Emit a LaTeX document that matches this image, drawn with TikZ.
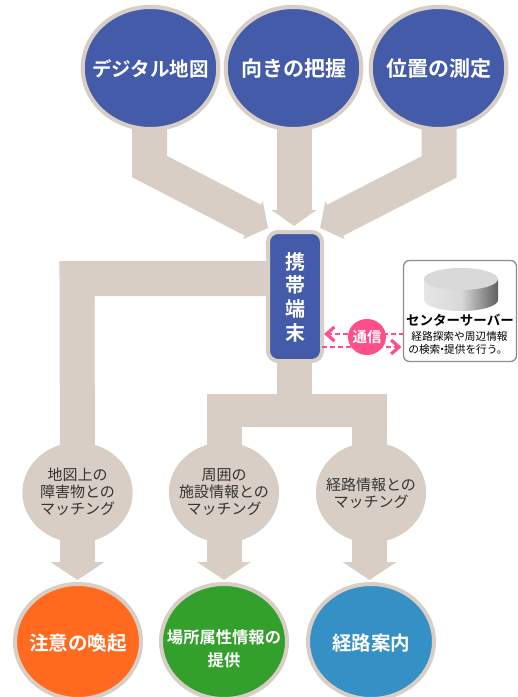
\documentclass[tikz,border=0pt]{standalone}
\usepackage{fontspec}
\setmainfont{Noto Sans CJK JP}
\newfontfamily\cjkheavy{Noto Sans CJK JP Bold}
\usetikzlibrary{shapes.geometric,arrows.meta,calc}
\definecolor{tan}{HTML}{D8CEC5}
\definecolor{navy}{HTML}{435BA8}
\definecolor{tOrange}{HTML}{FF6A1E}
\definecolor{tGreen}{HTML}{33A02C}
\definecolor{tBlue}{HTML}{3590C5}
\definecolor{tPink}{HTML}{FF4F8A}
\newcommand{\fsz}[1]{\fontsize{#1bp}{#1bp}\selectfont}
\tikzset{
  fat/.style={draw=tan,line width=35bp,line join=miter,line cap=butt},
  fatarrowA/.style={fat,-{Triangle[width=42bp,length=17bp]}},
  fatarrowB/.style={fat,-{Triangle[width=44bp,length=16bp]}},
  fatarrowC/.style={fat,-{Triangle[width=53bp,length=18bp]}},
  discbase/.style={ellipse,draw=tan,line width=4bp,inner sep=0pt,outer sep=0pt},
  topdisc/.style={discbase,fill=navy,minimum width=135.5bp,minimum height=122bp},
  enddisc/.style={discbase,minimum width=126bp,minimum height=115bp},
  greydisc/.style={ellipse,fill=tan,inner sep=0pt,outer sep=0pt,minimum width=110bp,minimum height=100bp},
  wlabel/.style={text=white,align=center,inner sep=0pt},
  glabel/.style={text=black!80,align=center,inner sep=0pt},
  commline/.style={draw=tPink,line width=2bp,dash pattern=on 5bp off 3bp},
  commtip/.style={-{Straight Barb[length=8bp,width=14bp,line width=3.2bp]}},
}
\begin{document}
\begin{tikzpicture}[x=1bp,y=-1bp]
\useasboundingbox (0,0) rectangle (518,697);
\path
  node[topdisc] (b1) at (150.5,68) {}
  node[topdisc] (b2) at (293.5,68) {}
  node[topdisc] (b3) at (438.5,68) {};
\path
  node[greydisc] (g1) at (77.5,492.5) {}
  node[greydisc] (g2) at (224,492.5) {}
  node[greydisc] (g3) at (371,492.5) {};
\path
  node[enddisc,fill=tOrange] (o1) at (78,641.5) {}
  node[enddisc,fill=tGreen] (o2) at (224,641.5) {}
  node[enddisc,fill=tBlue] (o3) at (371,641.5) {};
% connection points
\coordinate (k1) at (149.5,166.5);
\coordinate (t1) at (268,228);
\coordinate (k3) at (439,167);
\coordinate (t3) at (320,228);
\coordinate (lb) at (77,278.5);
\coordinate (bc) at (294,410.5);
\coordinate (bl) at (224,410.5);
\coordinate (br) at (369.5,410.5);
% fat connectors
\draw[fatarrowA] (149.5,125) -- (k1) -- (t1);
\draw[fatarrowB] (294,125) -- (294,226);
\draw[fatarrowA] (439,125) -- (k3) -- (t3);
\draw[fat] (280,278.5) -- (lb) -- (g1.center);
\draw[fat] (294,350) -- (bc);
\draw[fat,line width=32.5bp] (206.7,410.5) -- (386.7,410.5);
\draw[fat] (bl) -- (g2.center);
\draw[fat] (br) -- (369.5,500);
\draw[fatarrowC] (g1.center) -- ($(g1.center)+(0,87.5)$);
\draw[fatarrowC] (g2.center) -- ($(g2.center)+(0,87.5)$);
\draw[fatarrowC] (369.5,492.5) -- (369.5,580);
% redraw discs above the connectors
\path
  node[topdisc] at (b1) {}
  node[topdisc] at (b2) {}
  node[topdisc] at (b3) {}
  node[greydisc] at (g1) {}
  node[greydisc] at (g2) {}
  node[greydisc] at (g3) {};
% terminal
\node[rounded corners=10bp,draw=tan,fill=navy,line width=4bp,minimum width=54bp,minimum height=129bp,inner sep=0pt,outer sep=0pt] (term) at (295,296.5) {};
% server box
\node[rounded corners=6bp,draw=black!45,fill=white,line width=1.3bp,minimum width=113bp,minimum height=101bp,inner sep=0pt,outer sep=0pt] (server) at (460,311) {};
% cylinder
\shade[left color=gray!20,right color=gray!75!black,middle color=gray!30]
  (424,279) -- (424,300) arc[start angle=180,end angle=0,x radius=37bp,y radius=-11bp] -- (498,279) -- cycle;
\fill[gray!30] (461,279) ellipse[x radius=37bp,y radius=11bp];
% communication
\coordinate (cu) at (367,334);
\coordinate (cd) at (367,347);
\draw[commline,commtip] (server.west |- cu) -- ($(term.east |- cu)+(2,0)$);
\draw[commline,commtip] (term.east |- cd) -- ($(server.west |- cd)+(-2,0)$);
\node[ellipse,fill=tPink,minimum width=38bp,minimum height=36bp,inner sep=0pt] (comm) at (367,337) {};
% labels
\node[wlabel,font=\cjkheavy\fsz{19.5}] (l1) at (150.5,69) {デジタル地図};
\node[wlabel,font=\cjkheavy\fsz{21}] (l2) at (293.5,69) {向きの把握};
\node[wlabel,font=\cjkheavy\fsz{21}] (l3) at (438.5,69) {位置の測定};
\node[wlabel,font=\cjkheavy\fsz{20}] (l4) at (295,262) {携};
\node[wlabel,font=\cjkheavy\fsz{20}] (l5) at (295,285) {帯};
\node[wlabel,font=\cjkheavy\fsz{20}] (l6) at (295,308.5) {端};
\node[wlabel,font=\cjkheavy\fsz{20}] (l7) at (295,332.5) {末};
\node[wlabel,font=\cjkheavy\fsz{14.5}] (l8) at (367,337) {通信};
\node[inner sep=0pt,font=\cjkheavy\fsz{13.5}] (l9) at (460,320) {センターサーバー};
\node[inner sep=0pt,font=\fsz{10.7}] (l10) at (459.5,336) {経路探索や周辺情報};
\node[inner sep=0pt,font=\fsz{10.7}] (l11) at (458,349.5) {の検索\kern-3.5bp・\kern-3.5bp提供を行う。};
\node[glabel,font=\fsz{15}] (l12) at (77.5,475) {地図上の};
\node[glabel,font=\fsz{15}] (l13) at (77.5,492) {障害物との};
\node[glabel,font=\fsz{15}] (l14) at (77.5,509) {マッチング};
\node[glabel,font=\fsz{15}] (l15) at (224,475) {周囲の};
\node[glabel,font=\fsz{15}] (l16) at (224,492) {施設情報との};
\node[glabel,font=\fsz{15}] (l17) at (224,509) {マッチング};
\node[glabel,font=\fsz{15}] (l18) at (371,485) {経路情報との};
\node[glabel,font=\fsz{15}] (l19) at (371,502) {マッチング};
\node[wlabel,font=\cjkheavy\fsz{19.5}] (l20) at (78,643) {注意の喚起};
\node[wlabel,font=\cjkheavy\fsz{16.3}] (l21) at (224,637) {場所属性情報の};
\node[wlabel,font=\cjkheavy\fsz{16.3}] (l22) at (224,660) {提供};
\node[wlabel,font=\cjkheavy\fsz{19.5}] (l23) at (371,643) {経路案内};
\end{tikzpicture}
\end{document}
